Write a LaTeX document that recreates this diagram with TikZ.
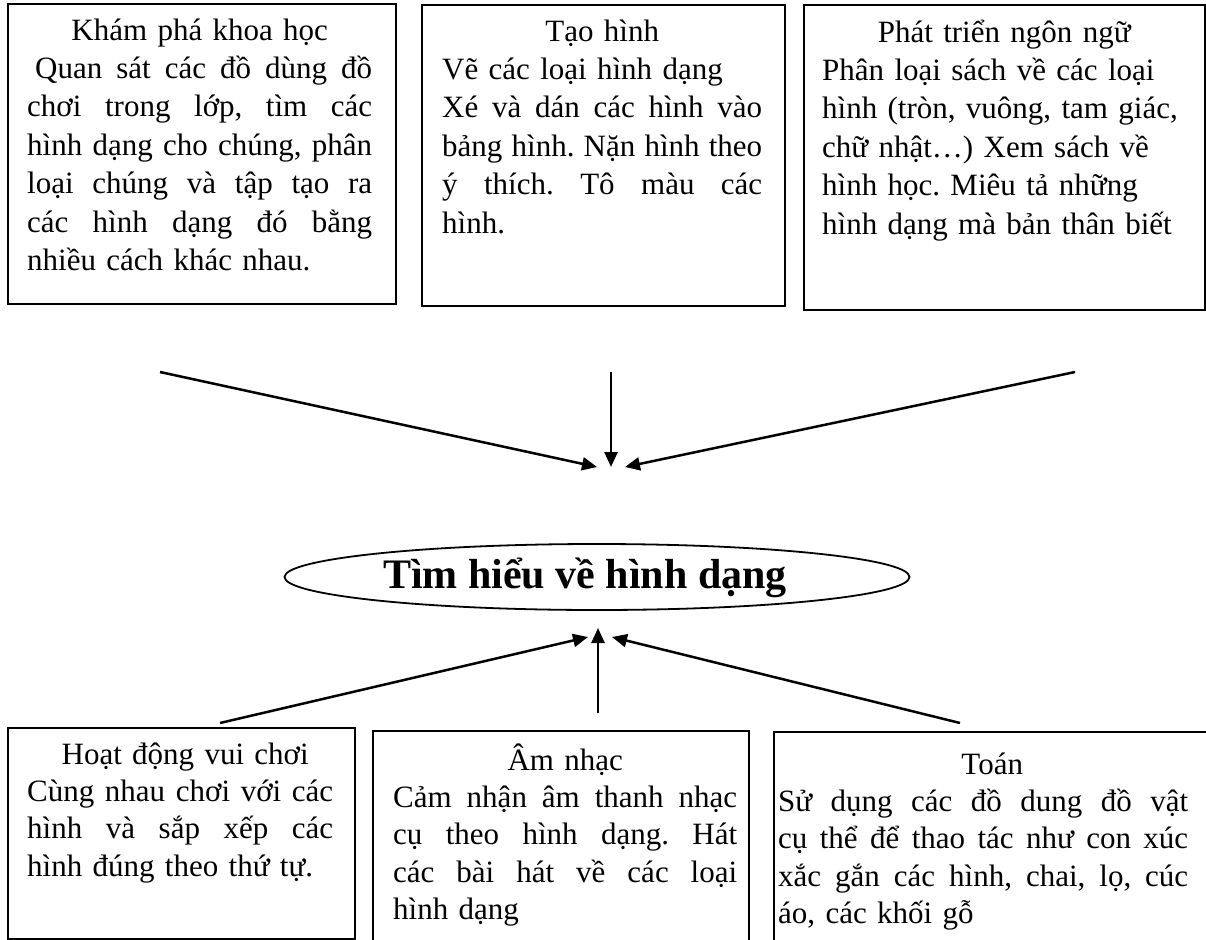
\documentclass[tikz,border=0pt]{standalone}
\usepackage{fontspec}
\setmainfont{Liberation Serif}
\usetikzlibrary{arrows.meta,shapes.geometric}
\frenchspacing
\newcommand\Lt[2][0pt]{\hbox to\hsize{\hfil\rule{0pt}{30pt}\hspace{#1}#2\hfil}}
\newcommand\Lj[1]{\hbox to\hsize{\spaceskip=0.25em plus 1fil\xspaceskip=0.25em plus 1fil\relax #1}}
\newcommand\Ll[1]{\hbox to\hsize{#1\hfil}}
\newcommand\topfont{\fontsize{31}{38.4}\selectfont}
\newcommand\botfont{\fontsize{31}{37.3}\selectfont}
\begin{document}
\begin{tikzpicture}[x=1pt,y=-1pt,
  box/.style={draw, line width=1.8pt, inner sep=0pt, anchor=north west},
  ttxt/.style={anchor=north west, inner sep=0pt, font=\topfont, text width=#1},
  btxt/.style={anchor=north west, inner sep=0pt, font=\botfont, text width=#1},
  arr/.style={line width=2.5pt, -{Triangle[length=15pt,width=13pt]}}]
\useasboundingbox (0,0) rectangle (1206,939);
\clip (0,0) rectangle (1206,939);
% top boxes
\node[box, minimum width=388pt, minimum height=300pt] (A) at (7,3) {};
\node[box, minimum width=363pt, minimum height=301pt] (B) at (421,4) {};
\node[box, minimum width=401pt, minimum height=305pt] (C) at (803,4) {};
\node[ttxt=345pt] (At) at (27,10) {%
\Lt{Khám phá khoa học}
\Lj{\hspace{8pt}Quan sát các đồ dùng đồ}
\Lj{chơi trong lớp, tìm các}
\Lj{hình dạng cho chúng, phân}
\Lj{loại chúng và tập tạo ra}
\Lj{các hình dạng đó bằng}
\Ll{nhiều cách khác nhau.}};
\node[ttxt=320pt] (Bt) at (442,11) {%
\Lt{Tạo hình}
\Ll{Vẽ các loại hình dạng}
\Lj{Xé và dán các hình vào}
\Lj{bảng hình. Nặn hình theo}
\Lj{ý thích. Tô màu các}
\Ll{hình.}};
\node[ttxt=364pt] (Ct) at (822,12) {%
\Lt{Phát triển ngôn ngữ}
\Ll{Phân loại sách về các loại}
\Ll{hình (tròn, vuông, tam giác,}
\Ll{chữ nhật…) Xem sách về}
\Ll{hình học. Miêu tả những}
\Ll{hình dạng mà bản thân biết}};
% centre
\node[draw, ellipse, line width=1.8pt, inner sep=0pt, minimum width=625pt, minimum height=66pt] (M) at (597,577) {};
\node[font=\fontsize{42}{50}\selectfont\bfseries, inner sep=0pt] (Mt) at (585,578) {Tìm hiểu về hình dạng};
% bottom boxes
\node[box, minimum width=347pt, minimum height=211pt] (D) at (7,727) {};
\node[box, minimum width=376pt, minimum height=260pt] (E) at (372,730) {};
\node[box, minimum width=500pt, minimum height=260pt] (F) at (773,731) {};
\node[btxt=306pt] (Dt) at (27,734) {%
\Lt[10pt]{Hoạt động vui chơi}
\Lj{Cùng nhau chơi với các}
\Lj{hình và sắp xếp các}
\Ll{hình đúng theo thứ tự.}};
\node[btxt=344pt] (Et) at (393,740) {%
\Lt{Âm nhạc}
\Lj{Cảm nhận âm thanh nhạc}
\Lj{cụ theo hình dạng. Hát}
\Lj{các bài hát về các loại}
\Ll{hình dạng}};
\node[btxt=410pt] (Ft) at (778,744) {%
\Lt[18pt]{Toán}
\Lj{Sử dụng các đồ dung đồ vật}
\Lj{cụ thể để thao tác như con xúc}
\Lj{xắc gắn các hình, chai, lọ, cúc}
\Ll{áo, các khối gỗ}};
% arrow end points
\coordinate (s1) at (160,372);
\coordinate (s2) at (611,372);
\coordinate (s3) at (1075,372);
\coordinate (t1) at (597,467);
\coordinate (t2) at (611,467);
\coordinate (t3) at (625,467);
\coordinate (s4) at (220,723);
\coordinate (s5) at (598,713);
\coordinate (s6) at (960,723);
\coordinate (t4) at (588,637);
\coordinate (t5) at (598,628);
\coordinate (t6) at (612,637);
\draw[arr] (s1) -- (t1);
\draw[arr] (s2) -- (t2);
\draw[arr] (s3) -- (t3);
\draw[arr] (s4) -- (t4);
\draw[arr] (s5) -- (t5);
\draw[arr] (s6) -- (t6);
\end{tikzpicture}
\end{document}
